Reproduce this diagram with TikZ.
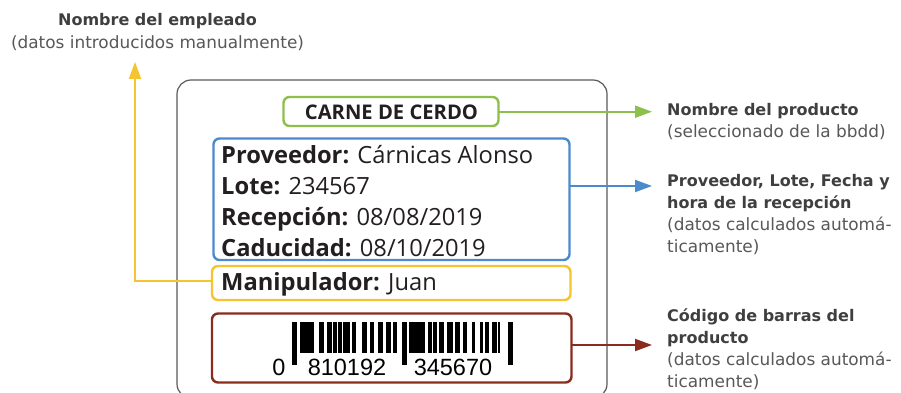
\documentclass[tikz,border=0pt]{standalone}
\usepackage{fontspec}
\usetikzlibrary{arrows.meta,calc}
\newfontfamily\labelfont{Open Sans}
\newfontfamily\notefont{DejaVu Sans}
\newfontfamily\barfont{Liberation Sans}
\definecolor{cgreen}{HTML}{8DC04A}
\definecolor{cblue}{HTML}{4A8BCB}
\definecolor{cyellow}{HTML}{F7C431}
\definecolor{cred}{HTML}{8A2B1D}
\definecolor{cgray}{HTML}{5A5A5A}
\definecolor{ctext}{HTML}{231F20}
\definecolor{cnote}{HTML}{3F3F3F}
\definecolor{cnotel}{HTML}{585858}
\tikzset{
  fieldbox/.style={draw, line width=2.4pt, rounded corners=6pt},
  lbl/.style={inner sep=0pt, anchor=base west, text=ctext, font=\labelfont\fontsize{23.7}{28}\selectfont},
  note/.style={inner sep=0pt, anchor=base west, text=cnotel, font=\notefont\fontsize{16.9}{21}\selectfont},
  noteb/.style={note, text=cnote, font=\notefont\bfseries\fontsize{16}{21}\selectfont},
  conn/.style={line width=2pt, -{Triangle[length=17pt,width=12pt]}},
  digit/.style={inner sep=0pt, anchor=base, text=black, font=\barfont\fontsize{23.5}{24}\selectfont},
}
\begin{document}
\begin{tikzpicture}[x=1pt,y=-1pt]
\useasboundingbox (0,0) rectangle (901,393);
\clip (0,0) rectangle (901,393);
\fill[white] (0,0) rectangle (901,393);
% card
\draw[cgray, line width=1.2pt, rounded corners=14pt] (177,80) rectangle (607,398);
% boxes
\draw[fieldbox, cgreen] (283.5,97) rectangle (498.5,126);
\draw[fieldbox, cblue] (213.5,138.5) rectangle (569.5,260);
\draw[fieldbox, cyellow] (212,266) rectangle (570.5,300);
\draw[fieldbox, cred] (212,313.5) rectangle (571.5,382.5);
\node[inner sep=0pt] (green) at (391,111.5) [minimum width=215pt, minimum height=29pt] {};
\node[inner sep=0pt] (blue) at (391.5,199.25) [minimum width=356pt, minimum height=121.5pt] {};
\node[inner sep=0pt] (yel) at (391.25,281) [minimum width=358.5pt, minimum height=34pt] {};
\node[inner sep=0pt] (red) at (391.75,348) [minimum width=359.5pt, minimum height=69pt] {};
% labels
\node[inner sep=0pt, anchor=base, text=ctext, font=\labelfont\bfseries\fontsize{20.2}{24}\selectfont] (title) at (391.5,120) {CARNE DE CERDO};
\node[lbl] (prov) at (221,163) {\textbf{Proveedor:} Cárnicas Alonso};
\node[lbl] (lote) at (221,194) {\textbf{Lote:} 234567};
\node[lbl] (rec) at (221,225) {\textbf{Recepción:} 08/08/2019};
\node[lbl] (cad) at (221,256) {\textbf{Caducidad:} 08/10/2019};
\node[lbl] (man) at (221,290) {\textbf{Manipulador:} Juan};
% barcode
\foreach \a/\b in {300/301.7, 302.3/314, 319/324, 326.7/331.7, 333.3/336.7, 338.3/341.7, 343.3/350, 351.7/356, 361.7/366.7, 370/374, 378.3/383.3, 386/390.7, 392.7/396.7, 409.3/425, 428.3/431.7, 433.3/436.7, 439.3/444, 447.3/452.7, 455/460, 463.3/466.7, 471.7/475, 480/483.3, 485/489.3, 492.3/496.7, 498.3/500}
  \fill[black] (\a,321.7) rectangle (\b,352.7);
\foreach \a/\b in {291.7/297.3, 402.3/407.3, 507.7/512.7}
  \fill[black] (\a,321.7) rectangle (\b,365);
\node[digit] (d0) at (279,375) {0};
\node[digit] (d1) at (347,375) {810192};
\node[digit] (d2) at (453,375) {345670};
% notes
\node[noteb, anchor=base] (empl1) at (157.5,26) {Nombre del empleado};
\node[note, anchor=base] (empl2) at (157.5,48.3) {(datos introducidos manualmente)};
\node[noteb] (nprod1) at (667,116) {Nombre del producto};
\node[note] (nprod2) at (667,137) {(seleccionado de la bbdd)};
\node[noteb] (nprov1) at (667,186.5) {Proveedor, Lote, Fecha y};
\node[noteb] (nprov2) at (667,208.5) {hora de la recepción};
\node[note] (nprov3) at (667,230.5) {(datos calculados automá-};
\node[note] (nprov4) at (667,252.5) {ticamente)};
\node[noteb] (ncod1) at (667,321) {Código de barras del};
\node[noteb] (ncod2) at (667,343) {producto};
\node[note] (ncod3) at (667,365) {(datos calculados automá-};
\node[note] (ncod4) at (667,387) {ticamente)};
% connectors
\coordinate (tipG) at (652,111.7);
\coordinate (tipB) at (652,186);
\coordinate (tipR) at (652,345);
\coordinate (tipY) at (135,62);
\draw[conn, cgreen] (green.east |- tipG) -- (tipG);
\draw[conn, cblue] (blue.east |- tipB) -- (tipB);
\draw[conn, cred] (red.east |- tipR) -- (tipR);
\draw[conn, cyellow] (yel.west) -| (tipY);
\end{tikzpicture}
\end{document}
